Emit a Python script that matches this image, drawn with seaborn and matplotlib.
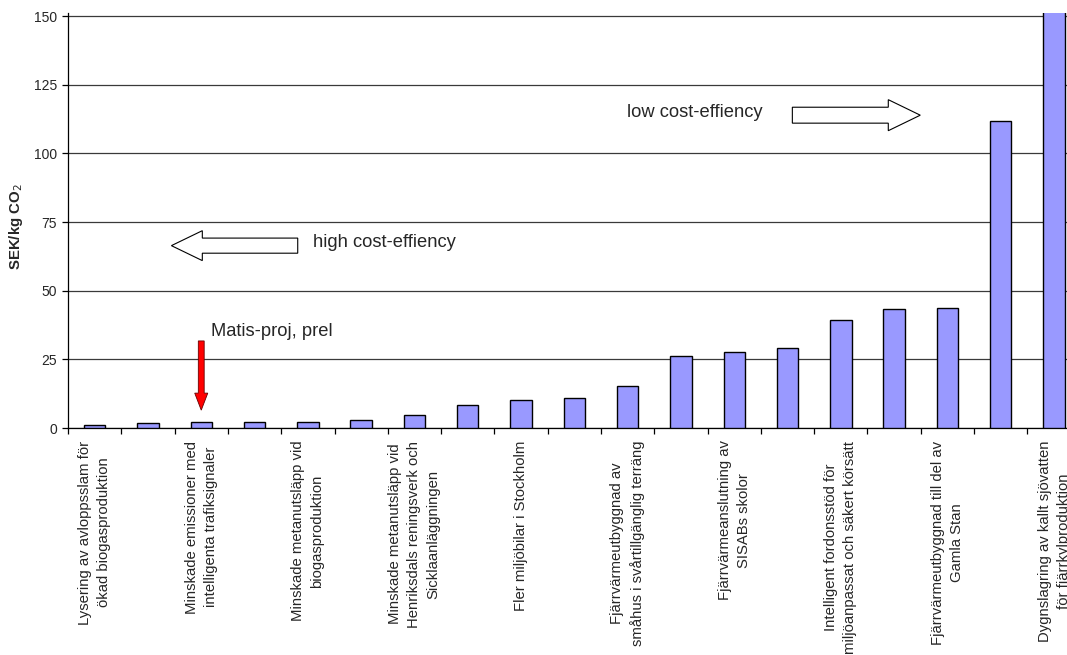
import matplotlib
matplotlib.use("Agg")
import matplotlib.pyplot as plt
from matplotlib.patches import FancyArrow
import seaborn as sns
import pandas as pd

# Cost per reduced kg CO2 for each measure, sorted ascending
values = [1.1, 1.7, 2.1, 2.2, 2.3, 2.8, 4.7, 8.3, 10.1, 11.0, 15.2,
          26.3, 27.5, 29.0, 39.2, 43.2, 43.8, 111.9, 165.0]

# Labels shown on every second measure
labels = [
    "Lysering av avloppsslam för\nökad biogasproduktion",
    "Minskade emissioner med\nintelligenta trafiksignaler",
    "Minskade metanutsläpp vid\nbiogasproduktion",
    "Minskade metanutsläpp vid\nHenriksdals reningsverk och\nSicklaanläggningen",
    "Fler miljöbilar i Stockholm",
    "Fjärrvärmeutbyggnad av\nsmåhus i svårtillgänglig terräng",
    "Fjärrvärmeanslutning av\nSISABs skolor",
    "Intelligent fordonsstöd för\nmiljöanpassat och säkert körsätt",
    "Fjärrvärmeutbyggnad till del av\nGamla Stan",
    "Dygnslagring av kallt sjövatten\nför fjärrkylproduktion",
]

y_ticks = [0, 25, 50, 75, 100, 125, 150]

sns.set_theme(style="white")
plt.rcParams["font.family"] = ["Liberation Sans", "DejaVu Sans"]

fig = plt.figure(figsize=(10.67, 6.55), dpi=100)
ax = fig.add_axes([68 / 1067, 227 / 655, 1012.7 / 1067, 414.7 / 655])

df = pd.DataFrame({"measure": range(len(values)), "cost": values})
sns.barplot(data=df, x="measure", y="cost", color="#9999FF", saturation=1,
            edgecolor="black", linewidth=1.0, width=0.4, ax=ax, zorder=3)

ax.set_xlim(-0.5, len(values) - 0.5)
ax.set_ylim(0, 151)
ax.set_yticks(y_ticks)
ax.set_yticklabels([str(t) for t in y_ticks], fontsize=10)
ax.yaxis.grid(True, color="#3a3a3a", linewidth=0.9, zorder=0)
ax.xaxis.grid(False)

# Tick marks between categories, labels on every second bar
ax.set_xticks([i - 0.5 for i in range(len(values) + 1)])
ax.set_xticklabels([])
ax.set_xticks(list(range(0, len(values), 2)), minor=True)
ax.set_xticklabels(labels, minor=True, rotation=90, fontsize=10.7,
                   va="top", ha="center", multialignment="center",
                   linespacing=1.45)
ax.tick_params(axis="x", which="major", direction="out", length=4,
               width=0.9, color="black", bottom=True)
ax.tick_params(axis="x", which="minor", length=0, pad=9, bottom=True)
ax.tick_params(axis="y", direction="out", length=4, width=0.9,
               color="black", left=True, pad=4)

for side in ["top", "right"]:
    ax.spines[side].set_visible(False)
for side in ["left", "bottom"]:
    ax.spines[side].set_color("black")
    ax.spines[side].set_linewidth(0.9)

ax.set_xlabel("")
ax.set_ylabel("SEK/kg CO$_2$", fontsize=10.8, fontweight="bold")
ax.yaxis.set_label_coords(-0.0425, 0.486)

# Direction arrows and notes
ax.add_patch(FancyArrow(3.81, 66.4, -2.37, 0, width=5.5, head_width=10.9,
                        head_length=0.58, length_includes_head=True,
                        facecolor="white", edgecolor="black", linewidth=0.8,
                        zorder=4))
ax.text(4.1, 67.4, "high cost-effiency", fontsize=13.2, va="center", ha="left")

ax.add_patch(FancyArrow(13.09, 113.9, 2.4, 0, width=5.8, head_width=11.3,
                        head_length=0.6, length_includes_head=True,
                        facecolor="white", edgecolor="black", linewidth=0.8,
                        zorder=4))
ax.text(9.98, 115.0, "low cost-effiency", fontsize=13.2, va="center", ha="left")

ax.add_patch(FancyArrow(2.0, 31.7, 0, -25.2, width=0.11, head_width=0.245,
                        head_length=6.2, length_includes_head=True,
                        facecolor="#FF0000", edgecolor="#660000", linewidth=0.6,
                        zorder=4))
ax.text(2.18, 35.0, "Matis-proj, prel", fontsize=13.2, va="center", ha="left")

fig.savefig("out.png", dpi=100)
